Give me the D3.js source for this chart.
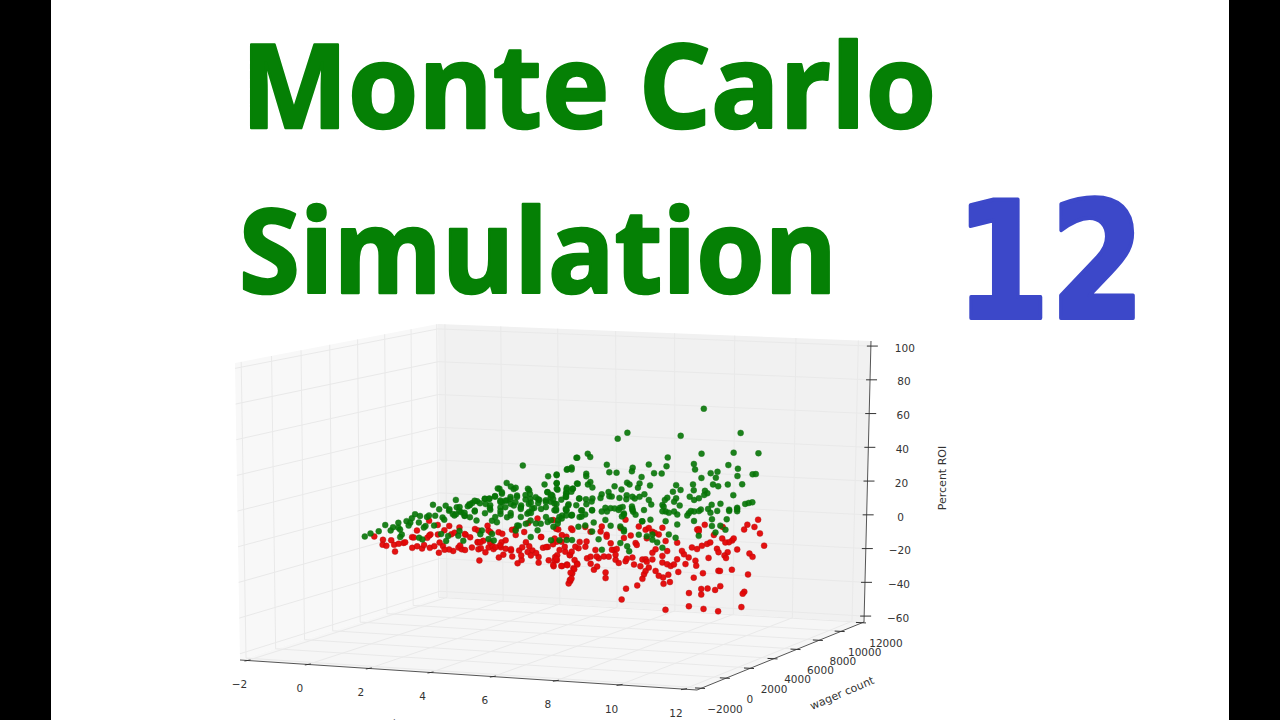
<!DOCTYPE html>
<html>
<head>
<meta charset="utf-8">
<title>Monte Carlo Simulation 12</title>
<script src="https://cdn.jsdelivr.net/npm/d3@7"></script>
<style>
html,body{margin:0;padding:0;background:#fff;overflow:hidden}
svg{display:block}
</style>
</head>
<body>
<svg id="chart" width="1280" height="720"></svg>
<script>
// Tick labels for the three axes
const xTicks = [-2, 0, 2, 4, 6, 8, 10, 12];
const wagerTicks = [-2000, 0, 2000, 4000, 6000, 8000, 10000, 12000];
const roiTicks = [-60, -40, -20, 0, 20, 40, 60, 80, 100];

// Simulated runs that ended in profit: [x, percent ROI]
const profitRuns = [
[0.06,-0.9],[0.2,0.7],[0.4,1.8],[0.56,5.2],[0.69,2],[0.75,3.8],[0.88,6.2],[0.92,2.3],[0.96,-0.6],[0.92,-2],
[1.08,7],[1.21,8.5],[1.29,10.8],[1.17,6],[1.41,9.7],[1.58,9],[1.73,15.8],[1.78,9.5],[1.54,3.8],[1.38,-2.8],
[1.46,-3.8],[1.96,8.4],[2.04,15.1],[2.12,12.1],[2.21,10.1],[2.29,18.2],[2.31,13.9],[2.42,11],[2.5,9],[2.09,-2.4],
[2.04,-5.2],[1.92,-1.1],[2.37,0.3],[2.34,-2.5],[2.46,-5.5],[2.58,14.3],[2.69,16.1],[2.81,17],[3,18.3],[3.11,18.3],
[3.25,19.6],[3.36,23.8],[3.42,20.9],[3.13,11.8],[3.42,16],[3.54,16.9],[3.71,23.3],[3.79,19.5],[3.71,13.8],[3.88,12.6],
[4.09,22.3],[4.12,17.4],[4.21,11.9],[4.04,8.8],[4.25,2.9],[4.34,16.5],[4.54,20.9],[4.62,15.2],[4.71,10.3],[4.29,-1],
[4.79,2.5],[3.54,7.2],[3.63,8.1],[3.29,4.5],[3.08,-5],[3.21,-5.9],[3.17,-2.1],[2.92,0],[2.88,-2],[3.75,-0.6],
[3.79,2.2],[4.12,-4.7],[4.54,3.6],[4.62,-7],[4.83,-7.2],[2.75,11.7],[2.79,5.9],
[3.94,36.7],[5.26,40.2],[5.02,33.5],[5.14,34.6],[4.56,30],[4.77,30.5],[4.47,25.4],[4.77,25.9],[5.27,25.3],[3.54,27],
[3.64,24.8],[3.76,24],[3.32,24],[3.42,21.7],[4.06,23.2],[4.11,20.2],[4.79,22.1],[5.02,23],[5.17,22.4],[5,20],
[5,17.7],[4.54,20.8],[4.62,17.9],[5.32,16.5],[3.25,19.3],[3,18.2],[3.11,18.1],[2.75,17.4],[3.38,16.9],[3.5,16.8],
[3.63,17.7],[3.79,18.6],[4,17],[4.31,16.9],[4.31,14.6],[4.5,16.2],[4.71,14.1],[5.06,13.4],[5,9.9],[3.02,15.2],
[3.12,12.9],[2.62,15.5],[3.38,13],[3.63,14.8],[3.89,13.7],[4.08,14.4],[4.16,11.5],[4.5,12.2],[4.08,9.7],[4.75,10.1],
[5.12,7],[5.33,5.8],[4.62,4.5],[4.83,6.2],[3.38,9.2],[3.17,5.5],[4.12,4.8],[4,3],[3.83,2.1],[4.37,2.7],
[2.37,11.8],[2.5,8.8],[2.29,10],
[8.41,66.5],[6.52,53.8],[6.28,50.5],[7.84,51.1],[9.33,51.7],[8.36,40.3],[9.16,40.3],[9.78,39.5],[5.28,40.2],[5.54,42.3],
[5.6,40.4],[7.52,38.7],[6.01,35.6],[7.05,34.9],[8.17,34.4],[9.03,33.1],[9.27,30.8],[5.04,33.8],[5.14,33.5],[4.77,30.9],
[5.5,30.8],[5.5,29.3],[6.07,31.2],[6.25,30.8],[6.65,33.4],[6.63,31.3],[6.87,27.8],[7.18,29.8],[7.37,29.4],[7.49,33.6],
[8.2,31.2],[8.59,28.7],[8.76,29.4],[8.72,26],[8.36,26.1],[9.26,26.5],[9.64,27.2],[9.72,27.3],[8.15,22.5],[8.17,19],
[8.65,22.1],[8.78,20.9],[9.02,21.7],[9.38,21.6],[5.29,25.1],[4.77,25.9],[4.77,22.6],[5.01,22],[5.16,22.3],[5.6,25.9],
[5.54,24.5],[5.65,22.7],[6.2,22.9],[6.51,24.8],[6.57,23.7],[6.82,24.1],[6.78,21.7],[7.08,22.7],[7.73,22.4],[7.65,18.6],
[7.84,19.5],[6.37,21],[6.05,19.7],[5.88,18.5],[5.85,16.4],[6.07,17.2],[5.01,19.6],[4.99,18],[6.5,17.5],[6.7,15.4],
[6.82,16.3],[6.94,17.7],[7.05,14.3],[7.11,11.6],[6.32,16.1],[6.49,15.2],[6.64,16.5],[5.33,16.6],[5.49,16],[5.65,16.3],
[4.66,18.8],[4.68,16.8],[4.76,13.8],[5.5,13.1],[5.97,10.6],[6.1,10.3],[6.2,10.1],[6.33,10.3],[6.4,10.8],[6.64,9.6],
[6.66,7.8],[6.93,8.5],[7.39,11.1],[7.45,14],[7.51,15.2],[7.73,14.7],[7.68,12.8],[7.82,10.4],[7.42,10.1],[8.07,15.4],
[8.18,13.4],[8.3,14.3],[8.45,18.5],[8.51,17],[8.43,16.1],[9.16,15.4],[8.84,10.6],[8.62,10.2],[8.53,7.8],[8.35,7.6],
[8.18,6.6],[8.05,5.8],[9.06,7],[9.26,7.9],[9.46,10],[9.55,10.5],[9.64,10.8],[5.14,6.9],[5.37,9.6],[5.47,7.2],
[5.05,12.7],[4.99,10.8],[5.64,9.4],[6.43,7],[7.47,7.2],[7.68,7],[8.59,5.5],[9.26,5.9],[4.9,7],
[5.01,10.1],[4.8,4.4],[4.68,0.7],[4.89,5.3],[5.14,7.3],[5.39,9.7],[5.64,9.6],[5.68,2.3],[5.64,-2.9],[5.47,0.8],
[5.3,0.2],[5.14,-7.4],[5.01,-7.3],[5.88,-13.7],[5.8,-7.5],[5.97,3.6],[6.1,0.1],[6.34,-0.5],[6.43,-2.5],[6.64,9],
[6.72,6],[6.89,2],[7.09,2.8],[7,-6.8],[7.14,-5.9],[7.26,-10.6],[7.39,-13.8],[6.34,-10.2],[6.51,-12.2],[6.56,-15.1],
[6.43,-3.5],[7.14,-9],[7.47,1.6],[7.76,5.2],[7.76,-0.6],[7.55,-6.2],[7.72,-8.3],[8.01,4.4],[8.18,1.1],[8.3,-7.7],
[8.3,6.8],[8.63,1.7],[8.63,-2.2],[9,1.4],[9.06,6.2],[9.26,7.1],[8.72,-6.1],[8.97,-4.7],[8.84,-2.2],[7.39,7.4],
[6.8,-5.7],[6.01,8.4],[6.3,9.1],[6.43,6.2],[7.55,6.4],[8.1,7],[8.76,6.5],
[2.13,12.9],[2.25,9.3],[2.38,14],[2.5,10.6],[2.63,14.9],[2.63,8],[2.75,11.2],[2.88,15.8],[3,10],[3.13,14.5],
[3.25,7.5],[3.38,16.1],[3.38,10.9],[3.5,13],[3.63,18.8],[3.63,9.5],[3.75,15.6],[3.88,11.7],[3.88,7.1],[4,19.6],
[4.13,15],[4.13,9.2],[4.25,18.2],[4.38,11.3],[4.5,15.2],[4.5,6.5],[4.63,19.3],[4.75,10.9],[4.88,16.2],[5,7],
[5.13,20.6],[5.25,12.7],[5.38,6],[5.63,14.5],[5.88,8.5],[6.13,17],[6.38,5.3],[6.63,10.9],[6.88,2],[1.38,6],
[1.63,9.8],[1.75,3.9],[1.88,13.1],[2,7.1],[1.13,4.4],[1.5,3],[0.88,3.4]
];

// Simulated runs that ended in a loss: [x, percent ROI]
const lossRuns = [
[9.79,0.5],[9.52,-2.2],[9.7,-3.7],[9.44,-5],[9.84,-7.6],[9.95,-14.9],[8.45,-1.4],[9.27,-16.5],[9.58,-19.2],[9.66,-21.2],
[9.14,-11.2],[9.06,-12.1],[9.03,-17.9],[8.95,-19.7],[8.99,-21.3],[8.55,-20.8],[8.8,-28.6],[8.84,-28.7],[9.14,-28.3],[9.55,-31.4],
[8.41,-29.6],[8.18,-32],[8.85,-37.6],[8.72,-39.7],[8.53,-38.7],[8.37,-38.8],[8.37,-42.1],[8.06,-40.9],[9.46,-41.5],[9.42,-42.6],
[8.06,-48.6],[8.43,-50.5],[9.39,-50.4],[8.8,-52.3],[7.47,-50.1],[6.37,-43],[6.48,-36.8],[6.76,-35.2],[7.42,-34.9],[7.58,-34],
[7.54,-29.7],[7.41,-31.2],[7.3,-30.1],[7.22,-27.2],[6.93,-28.9],[6.89,-31.5],[6.97,-27],[7.05,-25.1],[5.97,-26.9],[5.97,-30.2],
[5.14,-26.7],[5.09,-31.1],[5.05,-32.4],[5.26,-21],[5.17,-23.7],[5.01,-21.4],[4.89,-22.2],[4.68,-22.1],[4.72,-16.8],[4.76,-18.8],
[5.68,-25.1],[5.76,-23.3],[5.6,-21.5],[5.51,-18.3],[5.8,-18.5],[5.93,-17.6],[6.05,-17.8],[6.18,-14.1],[6.22,-19.8],[6.3,-21.7],
[6.47,-20.8],[6.64,-18.9],[6.68,-23],[6.89,-20.2],[6.97,-20.2],[6.84,-24.1],[7.14,-16.5],[7.14,-20.4],[7.39,-18.6],[7.39,-22.5],
[7.51,-23.6],[7.6,-24.7],[7.68,-23.8],[7.76,-20.9],[7.79,-28.3],[7.97,-23.9],[8.05,-20.1],[7.93,-18.1],[7.88,-16.1],[8.22,-22.1],
[8.24,-25.1],[8.13,-14.3],[8.26,-15.4],[8.38,-13.6],[8.51,-12.6],[8.59,-11.8],[8.68,-7.5],[8.76,-15.7],[8.8,-17.7],[8.3,-3.8],
[8.26,-3.9],[8.89,-9.7],[8.97,-12.1],[9.18,-10],[7.51,-15.9],[7.47,-10],[7.76,-11.2],[7.3,-6],[7.22,-14.6],[6.47,3.3],
[5.88,-0.2],[5.85,-3.1],[6.13,-13.9],[6.22,-16.8],[5.72,-13.6],[5.47,-11.5],[5.3,-12.2],[5.22,-11.3],[4.97,-14],[4.76,-8],
[5.09,-16],[6.72,-10.5],[7.14,-4.3],[7.39,-2.2],[6.97,-3],[4.68,4.6],[4.8,-0.9],[4.89,-4.3],[5.47,-0.1],[6.1,-10.1],
[6.43,-7.3],[5.6,-17.4],
[2.85,-17.1],[2.21,-11.1],[2.34,-9.2],[2.42,-10.3],[2.5,-10.8],[2.67,-9.5],[2.83,-10.7],[2.89,-10.1],[3,-12.6],[3.33,-15.8],
[3.44,-14.3],[3.08,-9.8],[3.2,-10.9],[3.38,-10],[3.5,-11],[3.63,-12.1],[3.66,-15.6],[3.79,-19.6],[3.89,-17.8],[3.83,-12.3],
[3.91,-10.4],[3.88,-15.2],[4.04,-13.3],[4.16,-12.5],[4.12,-15.4],[4.31,-16.4],[4.31,-19.7],[4.42,-11.2],[4.54,-10.8],[4.67,-9.4],
[4.56,-18.6],[4.67,-21.2],[4.71,-18.7],[4.77,-15.8],[4.87,-22.2],[5.02,-21.8],[4.83,-12.9],[5.08,-16.1],[5.2,-19],[5.27,-21.6],
[5.19,-24.4],[5.1,-26.3],[5.08,-30.5],[5.12,-29.7],[5.33,-8.6],[4.96,-11.1],[2.17,-1.5],[2.12,3.4],[2.52,-2.1],[2.81,-6.5],
[2.75,1.1],[2.83,0.1],[3.08,-0.1],[3.06,2.7],[3.33,-1.3],[3.42,-2.3],[3.4,-7.1],[3.36,-8.9],[3.17,-8.9],[3.66,-0.2],
[3.75,0.3],[3.96,-1.7],[4.06,3.4],[4.29,5.8],[4.37,-5],[4.71,-6.1],[5.12,-0.6],[5,-5.3],[4.08,-10],[3.12,-7],
[2.95,-5.9],[2.37,2.3],
[0.29,-1.1],[0.5,-3.2],[0.49,-6],[0.58,-6.7],[0.7,-3.6],[0.77,-6.3],[0.79,-10.2],[1,-5.4],[1.04,-5.1],[1.21,-2.3],
[1.21,-8.4],[1.33,-7.6],[1.33,1.4],[1.45,-9],[1.64,-8.8],[1.75,-7.9],[1.66,-1.1],[1.58,-3],[1.63,6.7],[1.86,-11.8],
[1.96,-8],[2.11,-10.1],[1.84,-1.3],[1.84,4.2],[2,1],[2.5,-1.6],[2.82,-6.8],
[4.75,-0.5],[5.15,-1.5],[5.6,-3],[6.35,-1.5],[6.8,-1],[7.05,-2],[7.2,-5],[8.3,-5],[8.9,-3],[6,-5],[6.6,-6],[7,-8],
[0.88,-5.8],[1.25,-2.5],[1.5,-7.1],[1.63,-1.7],[1.88,-6],[2,-10.2],[2.25,-0.6],[2.38,-8.1],[2.63,-3.6],[2.88,-6.7],
[3.13,-1.1],[3.25,-9.8],[3.5,-6.1],[3.63,-11.3],[3.75,-3.2],[4,-7.6],[4.25,-14.1],[4.38,-4.9],[4.5,-10.9],[4.75,-17.9],
[4.88,-8.1],[5.13,-14.1],[5.5,-8.6],[5.75,-17.4],[6,-6.2],[6.25,-13.5],[6.5,-19.4],[6.75,-11.6],[7,-21.7]
];

// Plot box limits in data units
const xLim = [-2.25, 12.4];
const wagerLim = [-2400, 12100];
const roiLim = [-63.5, 103];

// The runs lie along a diagonal band: wager count rises with x
const bandWager = d3.scaleLinear().domain([0, 9.6]).range([1500, 9300]);

// Box corners on the page, floor and ceiling, ordered
// front-left, front-right, back-right, back-left
const floorQuad = [[240,660],[697,690],[864,622],[440,597]];
const roofQuad  = [[235,363],[702,385],[871,341],[438,324]];

function quadMap(q) {
  const [[x0,y0],[x1,y1],[x2,y2],[x3,y3]] = q;
  const dx1=x1-x2, dx2=x3-x2, sx=x0-x1+x2-x3;
  const dy1=y1-y2, dy2=y3-y2, sy=y0-y1+y2-y3;
  const den=dx1*dy2-dx2*dy1;
  const g=(sx*dy2-dx2*sy)/den, h=(dx1*sy-sx*dy1)/den;
  const a=x1-x0+g*x1, b=x3-x0+h*x3, d=y1-y0+g*y1, e=y3-y0+h*y3;
  return (u,v)=>{
    const w=g*u+h*v+1;
    return [(a*u+b*v+x0)/w,(d*u+e*v+y0)/w];
  };
}
const floorAt = quadMap(floorQuad), roofAt = quadMap(roofQuad);
const uScale = d3.scaleLinear().domain(xLim).range([0,1]);
const vScale = d3.scaleLinear().domain(wagerLim).range([0,1]);
const wScale = d3.scaleLinear().domain(roiLim).range([0,1]);

// 3D data position to page position
function project(x, wager, roi) {
  const u=uScale(x), v=vScale(wager), w=wScale(roi);
  const f=floorAt(u,v), r=roofAt(u,v);
  return [f[0]+(r[0]-f[0])*w, f[1]+(r[1]-f[1])*w];
}

const svg = d3.select("#chart");
const pathOf = d3.line();

// Letterbox bars
svg.selectAll("rect.bar").data([[0,51],[1229,51]]).join("rect")
  .attr("x",d=>d[0]).attr("y",0).attr("width",d=>d[1]).attr("height",720).attr("fill","#000");

// Headline text
const headline = [
  {t:"Monte Carlo", x:241, y:128, len:695, size:116, fill:"#058005", font:"'Open Sans','Noto Sans',sans-serif", sw:2.5},
  {t:"Simulation", x:239, y:293, len:598, size:116, fill:"#058005", font:"'Open Sans','Noto Sans',sans-serif", sw:2.5},
  {t:"12", x:955, y:318, len:190, size:162, fill:"#3c48c9", font:"'DejaVu Sans',sans-serif", sw:4}
];
svg.selectAll("text.head").data(headline).join("text")
  .attr("class","head")
  .attr("x",d=>d.x).attr("y",d=>d.y)
  .attr("textLength",d=>d.len).attr("lengthAdjust","spacingAndGlyphs")
  .attr("font-family",d=>d.font).attr("font-weight",700)
  .attr("font-size",d=>d.size).attr("fill",d=>d.fill)
  .attr("stroke",d=>d.fill).attr("stroke-width",d=>d.sw).attr("stroke-linejoin","round")
  .text(d=>d.t);

// Panes
const panes = [
  {pts:[[xLim[0],wagerLim[0],roiLim[0]],[xLim[0],wagerLim[1],roiLim[0]],[xLim[0],wagerLim[1],roiLim[1]],[xLim[0],wagerLim[0],roiLim[1]]], fill:"#f8f8f8"},
  {pts:[[xLim[0],wagerLim[1],roiLim[0]],[xLim[1],wagerLim[1],roiLim[0]],[xLim[1],wagerLim[1],roiLim[1]],[xLim[0],wagerLim[1],roiLim[1]]], fill:"#f1f1f1"},
  {pts:[[xLim[0],wagerLim[0],roiLim[0]],[xLim[1],wagerLim[0],roiLim[0]],[xLim[1],wagerLim[1],roiLim[0]],[xLim[0],wagerLim[1],roiLim[0]]], fill:"#f6f6f6"}
];
svg.selectAll("path.pane").data(panes).join("path")
  .attr("d",d=>pathOf(d.pts.map(p=>project(...p)))+"Z").attr("fill",d=>d.fill);

// Grid lines on the panes
const grid = [];
xTicks.forEach(t=>{
  grid.push([[t,wagerLim[1],roiLim[0]],[t,wagerLim[1],roiLim[1]]]);
  grid.push([[t,wagerLim[0],roiLim[0]],[t,wagerLim[1],roiLim[0]]]);
});
wagerTicks.forEach(t=>{
  grid.push([[xLim[0],t,roiLim[0]],[xLim[0],t,roiLim[1]]]);
  grid.push([[xLim[0],t,roiLim[0]],[xLim[1],t,roiLim[0]]]);
});
roiTicks.forEach(t=>{
  grid.push([[xLim[0],wagerLim[1],t],[xLim[1],wagerLim[1],t]]);
  grid.push([[xLim[0],wagerLim[0],t],[xLim[0],wagerLim[1],t]]);
});
svg.selectAll("path.grid").data(grid).join("path")
  .attr("d",d=>pathOf(d.map(p=>project(...p))))
  .attr("fill","none").attr("stroke","#e9e9e9").attr("stroke-width",1);

// Axis lines
const axisLines = [
  [[xLim[0],wagerLim[0],roiLim[0]],[xLim[1],wagerLim[0],roiLim[0]]],
  [[xLim[1],wagerLim[0],roiLim[0]],[xLim[1],wagerLim[1],roiLim[0]]],
  [[xLim[1],wagerLim[1],roiLim[0]],[xLim[1],wagerLim[1],roiLim[1]]]
];
svg.selectAll("path.axis").data(axisLines).join("path")
  .attr("d",d=>pathOf(d.map(p=>project(...p))))
  .attr("fill","none").attr("stroke","#555").attr("stroke-width",1);

// Ticks and tick labels
const tickFont = "'DejaVu Sans',sans-serif";
function drawTicks(values, at, tick, labelOff, fmt) {
  const g = svg.append("g");
  values.forEach(v=>{
    const [px,py]=at(v);
    g.append("line").attr("x1",px+tick[0]).attr("y1",py+tick[1]).attr("x2",px+tick[2]).attr("y2",py+tick[3])
      .attr("stroke","#333").attr("stroke-width",1);
    g.append("text").attr("x",px+labelOff[0]).attr("y",py+labelOff[1]).attr("dy","0.35em")
      .attr("text-anchor","middle").attr("font-family",tickFont).attr("font-size",10.5).attr("fill","#333")
      .text(fmt(v));
  });
}
const minusFmt = v=>String(v).replace("-","\u2212");
drawTicks(xTicks, t=>project(t,wagerLim[0],roiLim[0]), [-3,0.5,3,-0.5], [-8,24], minusFmt);
drawTicks(wagerTicks, t=>project(xLim[1],t,roiLim[0]), [-7,0,3,0.5], [23,21], minusFmt);
drawTicks(roiTicks, t=>project(xLim[1],wagerLim[1],t), [-4,0,7,0], [34,2], minusFmt);

// Axis titles
const titles = [
  {t:"Percent ROI", x:942, y:478, r:-90},
  {t:"wager count", x:842, y:693, r:-23},
  {t:"wins", x:396, y:724, r:4}
];
svg.selectAll("text.axis-title").data(titles).join("text")
  .attr("class","axis-title")
  .attr("transform",d=>`translate(${d.x},${d.y}) rotate(${d.r})`)
  .attr("text-anchor","middle").attr("dy","0.35em")
  .attr("font-family",tickFont).attr("font-size",11).attr("fill","#333")
  .text(d=>d.t);

// Scatter: losing runs first, profitable runs over them
const seriesStyle = [
  {runs:lossRuns, fill:"#e40606", stroke:"#b01010", opacity:0.95},
  {runs:profitRuns, fill:"#067606", stroke:"#0a6a0a", opacity:0.9}
];
seriesStyle.forEach(s=>{
  svg.append("g").selectAll("circle").data(s.runs).join("circle")
    .attr("cx",d=>project(d[0],bandWager(d[0]),d[1])[0])
    .attr("cy",d=>project(d[0],bandWager(d[0]),d[1])[1])
    .attr("r",3).attr("fill",s.fill).attr("stroke",s.stroke).attr("stroke-width",0.4)
    .attr("opacity",s.opacity);
});
</script>
</body>
</html>
